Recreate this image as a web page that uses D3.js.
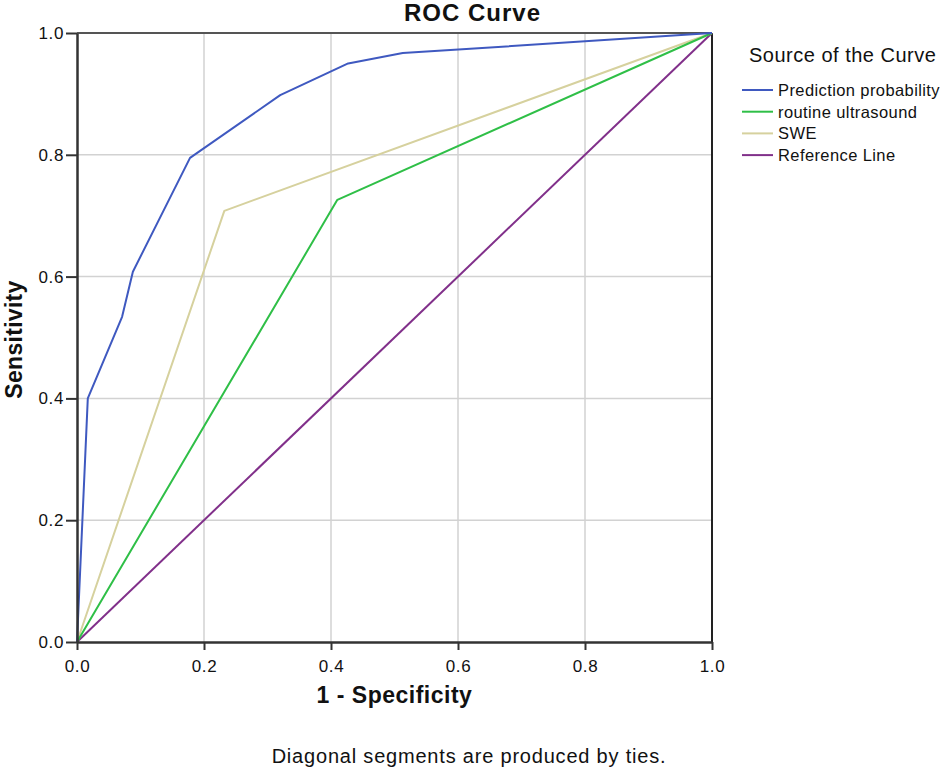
<!DOCTYPE html>
<html>
<head>
<meta charset="utf-8">
<script src="https://cdn.jsdelivr.net/npm/d3@7"></script>
<style>
  html, body { margin: 0; padding: 0; background: #fff; }
  svg { display: block; font-family: "Liberation Sans", Arial, sans-serif; }
</style>
</head>
<body>
<svg id="chart" width="945" height="771"></svg>
<script>
// ---- Data ----
const xTicks = [0.0, 0.2, 0.4, 0.6, 0.8, 1.0];
const yTicks = [0.0, 0.2, 0.4, 0.6, 0.8, 1.0];

const predictionFPR = [0.0, 0.017, 0.071, 0.088, 0.178, 0.320, 0.427, 0.513, 1.0];
const predictionTPR = [0.0, 0.400, 0.534, 0.608, 0.795, 0.898, 0.950, 0.967, 1.0];

const routineFPR = [0.0, 0.410, 1.0];
const routineTPR = [0.0, 0.726, 1.0];

const sweFPR = [0.0, 0.232, 1.0];
const sweTPR = [0.0, 0.708, 1.0];

const referenceFPR = [0.0, 1.0];
const referenceTPR = [0.0, 1.0];

const seriesNames = ["Prediction probability", "routine ultrasound", "SWE", "Reference Line"];
const seriesColors = ["#3f59c0", "#2fbf47", "#d6d19e", "#81308a"];

const series = [
  { name: seriesNames[0], color: seriesColors[0], pts: predictionFPR.map((x, i) => [x, predictionTPR[i]]) },
  { name: seriesNames[1], color: seriesColors[1], pts: routineFPR.map((x, i) => [x, routineTPR[i]]) },
  { name: seriesNames[2], color: seriesColors[2], pts: sweFPR.map((x, i) => [x, sweTPR[i]]) },
  { name: seriesNames[3], color: seriesColors[3], pts: referenceFPR.map((x, i) => [x, referenceTPR[i]]) }
];

// ---- Layout ----
const svg = d3.select("#chart");
const W = 945;
const pL = 77, pR = 712, pT = 33, pB = 642;

const x = d3.scaleLinear().domain([0, 1]).range([pL, pR]);
const y = d3.scaleLinear().domain([0, 1]).range([pB, pT]);

// gridlines
svg.append("g").selectAll("line").data(xTicks.slice(1, -1)).join("line")
  .attr("x1", d => x(d)).attr("x2", d => x(d))
  .attr("y1", pT).attr("y2", pB)
  .attr("stroke", "#d2d2d2").attr("stroke-width", 1.5);
svg.append("g").selectAll("line").data(yTicks.slice(1, -1)).join("line")
  .attr("x1", pL).attr("x2", pR)
  .attr("y1", d => y(d)).attr("y2", d => y(d))
  .attr("stroke", "#d2d2d2").attr("stroke-width", 1.5);

// frame top & right
svg.append("line").attr("x1", pL).attr("x2", pR).attr("y1", pT).attr("y2", pT)
  .attr("stroke", "#555").attr("stroke-width", 2);
svg.append("line").attr("x1", pR).attr("x2", pR).attr("y1", pT).attr("y2", pB)
  .attr("stroke", "#222").attr("stroke-width", 2);

// series lines
const line = d3.line().x(d => x(d[0])).y(d => y(d[1]));
svg.append("g").selectAll("path").data(series.slice().reverse()).join("path")
  .attr("d", d => line(d.pts))
  .attr("fill", "none")
  .attr("stroke", d => d.color)
  .attr("stroke-width", 2)
  .attr("stroke-linejoin", "round");

// axes
const xAxis = d3.axisBottom(x).tickValues(xTicks).tickFormat(d3.format(".1f")).tickSize(8).tickSizeOuter(0);
const yAxis = d3.axisLeft(y).tickValues(yTicks).tickFormat(d3.format(".1f")).tickSize(11).tickSizeOuter(0);

const gx = svg.append("g").attr("transform", `translate(0,${pB})`).call(xAxis);
const gy = svg.append("g").attr("transform", `translate(${pL},0)`).call(yAxis);
[gx, gy].forEach(g => {
  g.select(".domain").attr("stroke", "#333").attr("stroke-width", 2.5);
  g.selectAll(".tick line").attr("stroke", "#333").attr("stroke-width", 2);
  g.selectAll(".tick text").attr("fill", "#111")
    .style("font-family", "'Liberation Sans', Arial, sans-serif").style("font-size", "17px")
    .style("letter-spacing", "0.6px");
});
gx.selectAll(".tick text").attr("dy", null).attr("y", 30);
gy.selectAll(".tick text").attr("x", -13);

// title (centered on the full chart width)
svg.append("text").attr("x", W / 2).attr("y", 21)
  .attr("text-anchor", "middle").attr("font-weight", "bold").attr("font-size", 24)
  .style("letter-spacing", "1px")
  .attr("fill", "#111").text("ROC Curve");

// axis titles
svg.append("text").attr("x", (pL + pR) / 2).attr("y", 703)
  .attr("text-anchor", "middle").attr("font-weight", "bold").attr("font-size", 23)
  .style("letter-spacing", "0.5px")
  .attr("fill", "#111").text("1 - Specificity");
svg.append("text").attr("transform", `translate(22,${(pT + pB) / 2 + 2}) rotate(-90)`)
  .attr("text-anchor", "middle").attr("font-weight", "bold").attr("font-size", 23)
  .style("letter-spacing", "0.3px")
  .attr("fill", "#111").text("Sensitivity");

// footnote
svg.append("text").attr("x", 469).attr("y", 763)
  .attr("text-anchor", "middle").attr("font-size", 20)
  .style("letter-spacing", "0.8px")
  .attr("fill", "#111").text("Diagonal segments are produced by ties.");

// legend
const lg = svg.append("g");
lg.append("text").attr("x", 749).attr("y", 62).attr("font-size", 20)
  .style("letter-spacing", "0.5px")
  .attr("fill", "#111").text("Source of the Curve");
const items = lg.selectAll("g").data(series).join("g")
  .attr("transform", (d, i) => `translate(742,${90 + i * 21.7})`);
items.append("line").attr("x1", 0).attr("x2", 31).attr("y1", 0).attr("y2", 0)
  .attr("stroke", d => d.color).attr("stroke-width", 2);
items.append("text").attr("x", 36).attr("y", 6).attr("font-size", 16.5)
  .style("letter-spacing", "0.4px")
  .attr("fill", "#111").text(d => d.name);
</script>
</body>
</html>
